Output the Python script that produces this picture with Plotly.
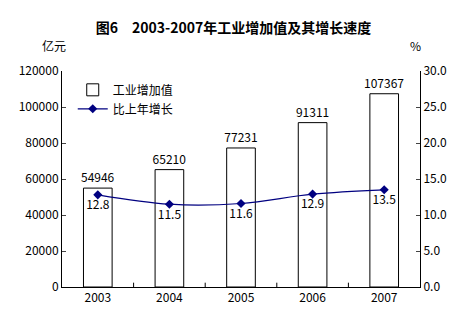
import plotly.graph_objects as go

years = ["2003", "2004", "2005", "2006", "2007"]
value_added = [54946, 65210, 77231, 91311, 107367]
growth = [12.8, 11.5, 11.6, 12.9, 13.5]
left_ticks = [0, 20000, 40000, 60000, 80000, 100000, 120000]
right_ticks = [0, 5, 10, 15, 20, 25, 30]

FONT = "SimSun, Noto Sans CJK SC, sans-serif"

fig = go.Figure()
fig.add_trace(go.Bar(
    x=years, y=value_added, name="工业增加值",
    marker=dict(color="white", line=dict(color="black", width=1)),
    width=0.4,
    text=[str(v) for v in value_added], textposition="outside",
    constraintext="none",
    textfont=dict(size=12, color="black", family=FONT),
    cliponaxis=False,
))
fig.add_trace(go.Scatter(
    x=years, y=growth, name="比上年增长", yaxis="y2",
    mode="lines+markers+text",
    line=dict(color="#000080", width=1.2, shape="spline"),
    marker=dict(symbol="diamond", size=7, color="#000080"),
    text=[f"{v:.1f}" for v in growth], textposition="bottom center",
    textfont=dict(size=12, color="black", family=FONT),
    cliponaxis=False,
))

fig.update_layout(
    width=467, height=325,
    margin=dict(l=62, r=47, t=71, b=38),
    paper_bgcolor="white", plot_bgcolor="white",
    font=dict(family=FONT, size=12, color="black"),
    showlegend=True,
    legend=dict(x=0.03, y=0.98, xanchor="left", yanchor="top",
                bgcolor="rgba(0,0,0,0)", font=dict(size=12, family=FONT),
                tracegroupgap=2, itemwidth=30),
    bargap=0.6,
    xaxis=dict(type="category", showline=True, linecolor="black", linewidth=1,
               ticks="", showgrid=False, tickfont=dict(size=12),
               range=[-0.5, 4.5]),
    yaxis=dict(range=[0, 120000], tickvals=left_ticks,
               ticktext=[str(v) for v in left_ticks],
               showline=True, linecolor="black", linewidth=1,
               ticks="inside", ticklen=4, showgrid=False, zeroline=False,
               tickfont=dict(size=12)),
    yaxis2=dict(range=[0, 30], tickvals=right_ticks,
                ticktext=[f"{v:.1f}" for v in right_ticks],
                overlaying="y", side="right",
                showline=True, linecolor="black", linewidth=1,
                ticks="inside", ticklen=4, showgrid=False, zeroline=False,
                tickfont=dict(size=12)),
    title=dict(text="<b>图6　2003-2007年工业增加值及其增长速度</b>",
               x=0.5, xanchor="center", y=0.915, yanchor="middle",
               font=dict(size=14, family=FONT)),
    annotations=[
        dict(text="亿元", xref="paper", yref="paper", x=0, y=1.07,
             xanchor="right", yanchor="bottom", showarrow=False,
             font=dict(size=12), xshift=6),
        dict(text="%", xref="paper", yref="paper", x=1, y=1.07,
             xanchor="center", yanchor="bottom", showarrow=False,
             font=dict(size=12), xshift=-5),
    ],
)

# inside tick marks between categories on the x axis
for i in range(1, 5):
    fig.add_shape(type="line", xref="x", yref="paper", x0=i - 0.5, x1=i - 0.5,
                  y0=0, y1=0.02, line=dict(color="black", width=1))

fig.write_html("out.html")
